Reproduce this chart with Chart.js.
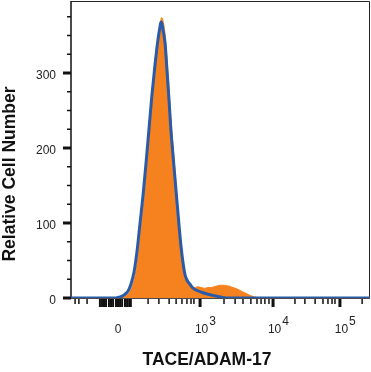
<!DOCTYPE html>
<html>
<head>
<meta charset="utf-8">
<script src="https://cdn.jsdelivr.net/npm/chart.js@4.4.1/dist/chart.umd.min.js"></script>
<style>
  html, body { margin: 0; padding: 0; background: #fff; }
  #wrap { width: 371px; height: 372px; position: relative; }
</style>
</head>
<body>
<div id="wrap"><canvas id="histChart"></canvas></div>
<script>
/* ---- Data: x = display channel (0-1024, logicle axis), y = cell count ---- */
// blue outline (isotype control)
const isoChannels = [0,154,164,175,185,195,205,216,226,236,247,257,267,277,288,298,305,308,312,315,322,329,336,342,349,356,363,370,377,384,390,397,408,418,432,452,469,486,503,517,531,1024];
const isoCounts   = [0,0,1,2.5,5,9,18,35,62,98,138,180,225,270,312,345,362,368,365,358,340,302,262,225,192,160,128,97,68,46,32,24,18,13,10,7,5,3.5,2,0.8,0,0];

// orange filled (TACE/ADAM-17 stained)
const stainChannels = [0,164,175,185,195,205,216,226,236,247,257,267,277,288,298,305,310,315,322,329,336,342,349,356,363,370,377,384,390,397,404,414,425,435,445,459,469,479,490,500,510,521,531,541,551,562,572,582,592,603,613,623,634,644,654,1024];
const stainCounts   = [0,0,1,2.5,5,11,24,45,78,118,162,210,258,302,340,362,374,370,352,318,278,240,205,170,135,100,70,48,33,23,18,15,14,15,14,13,14,14,15,16,17,17,16.5,16,14.5,13,11.5,9.5,7.5,5.5,3.5,2,0.8,0.2,0,0];

/* ---- Axis ticks ---- */
const yMajorTicks = [0, 100, 200, 300];
const yMinorTicks = [25, 50, 75, 125, 150, 175, 225, 250, 275, 325, 350, 375];

const xDecadeChannels = [161, 442, 692, 921];
const xDecadeBases    = ["0", "10", "10", "10"];
const xDecadeExps     = ["", "3", "4", "5"];
const xClusterTicks = [99, 106, 113, 120, 130, 137, 144, 154, 168, 175, 185, 192, 199, 205];
const xMinorTicks = [14, 27, 55, 264, 301, 336, 360, 380, 397, 411, 421, 524, 562, 589, 616, 637, 651, 664, 678, 767, 801, 836, 863, 880, 894, 904, 997];

const X_TITLE = "TACE/ADAM-17";
const Y_TITLE = "Relative Cell Number";

const COLORS = {
  stain: "#F5821F",
  iso:   "#2A5BA8",
  ink:   "#111111",
};

const toPts = (xs, ys) => xs.map((x, i) => ({ x, y: ys[i] }));

/* ---- Frame, ticks, labels and titles ---- */
const axisDecor = {
  id: "axisDecor",
  beforeDatasetsDraw(chart) {
    const { ctx, chartArea: a } = chart;
    ctx.save();
    ctx.strokeStyle = "#222";
    ctx.lineWidth = 1;
    ctx.beginPath();
    ctx.moveTo(a.left, a.top + 0.5);
    ctx.lineTo(a.right - 0.5, a.top + 0.5);
    ctx.lineTo(a.right - 0.5, a.bottom);
    ctx.stroke();
    ctx.strokeStyle = COLORS.ink;
    ctx.lineWidth = 1.5;
    ctx.beginPath();
    ctx.moveTo(a.left, a.top);
    ctx.lineTo(a.left, a.bottom);
    ctx.lineTo(a.right, a.bottom);
    ctx.stroke();
    ctx.restore();
  },
  afterDraw(chart) {
    const { ctx, chartArea: a, scales: { x, y } } = chart;
    ctx.save();
    ctx.strokeStyle = COLORS.ink;

    const vTick = (v, w, len) => {
      const px = x.getPixelForValue(v);
      ctx.lineWidth = w;
      ctx.beginPath();
      ctx.moveTo(px, a.bottom + 1);
      ctx.lineTo(px, a.bottom + 1 + len);
      ctx.stroke();
    };
    const hTick = (v, w, len) => {
      const py = y.getPixelForValue(v);
      ctx.lineWidth = w;
      ctx.beginPath();
      ctx.moveTo(a.left, py);
      ctx.lineTo(a.left - len, py);
      ctx.stroke();
    };

    xMinorTicks.forEach((v) => vTick(v, 1.5, 5));
    xClusterTicks.forEach((v) => vTick(v, 2, 8));
    xDecadeChannels.forEach((v) => vTick(v, 3, 8));
    yMinorTicks.forEach((v) => hTick(v, 1.5, 4));
    yMajorTicks.forEach((v) => hTick(v, 3, 8));

    // decade labels with superscript exponents
    ctx.fillStyle = "#222";
    ctx.font = "12px 'Liberation Sans', Arial, sans-serif";
    ctx.textBaseline = "alphabetic";
    xDecadeChannels.forEach((v, i) => {
      const px = x.getPixelForValue(v) + (xDecadeExps[i] ? 1.5 : 0);
      ctx.textAlign = "center";
      ctx.fillText(xDecadeBases[i], px, 333);
      if (xDecadeExps[i]) {
        const w = ctx.measureText(xDecadeBases[i]).width;
        ctx.textAlign = "left";
        ctx.fillText(xDecadeExps[i], px + w / 2 + 1, 324.5);
      }
    });

    // axis titles
    ctx.fillStyle = "#111";
    ctx.font = "bold 17.5px 'Liberation Sans', Arial, sans-serif";
    ctx.textAlign = "center";
    ctx.textBaseline = "middle";
    ctx.fillText(X_TITLE, 207, 360);
    ctx.translate(10, 174);
    ctx.rotate(-Math.PI / 2);
    ctx.fillText(Y_TITLE, 0, 0);
    ctx.restore();
  },
};

new Chart(document.getElementById("histChart"), {
  type: "line",
  data: {
    datasets: [
      {
        label: "Isotype",
        data: toPts(isoChannels, isoCounts),
        borderColor: COLORS.iso,
        borderWidth: 3,
        pointRadius: 0,
        fill: false,
        cubicInterpolationMode: "monotone",
        order: 0,
      },
      {
        label: "TACE/ADAM-17",
        data: toPts(stainChannels, stainCounts),
        borderColor: COLORS.stain,
        backgroundColor: COLORS.stain,
        borderWidth: 1,
        pointRadius: 0,
        fill: "origin",
        cubicInterpolationMode: "monotone",
        order: 1,
      },
    ],
  },
  options: {
    responsive: true,
    maintainAspectRatio: false,
    devicePixelRatio: 1,
    animation: false,
    layout: { padding: { left: 0, top: 1, right: 1, bottom: 0 } },
    plugins: { legend: { display: false }, tooltip: { enabled: false } },
    scales: {
      x: {
        type: "linear",
        min: 0,
        max: 1024,
        grid: { display: false },
        border: { display: false },
        ticks: { display: false },
        afterFit: (s) => { s.height = 74; s.paddingLeft = 0; s.paddingRight = 0; },
      },
      y: {
        min: 0,
        max: 396,
        grid: { display: false, drawTicks: false },
        border: { display: false },
        afterBuildTicks: (s) => { s.ticks = yMajorTicks.map((v) => ({ value: v })); },
        ticks: {
          padding: 15,
          labelOffset: 3,
          color: "#222",
          font: { family: "'Liberation Sans', Arial, sans-serif", size: 12 },
        },
        afterFit: (s) => { s.width = 71; s.paddingTop = 0; s.paddingBottom = 0; },
      },
    },
  },
  plugins: [axisDecor],
});
</script>
</body>
</html>
